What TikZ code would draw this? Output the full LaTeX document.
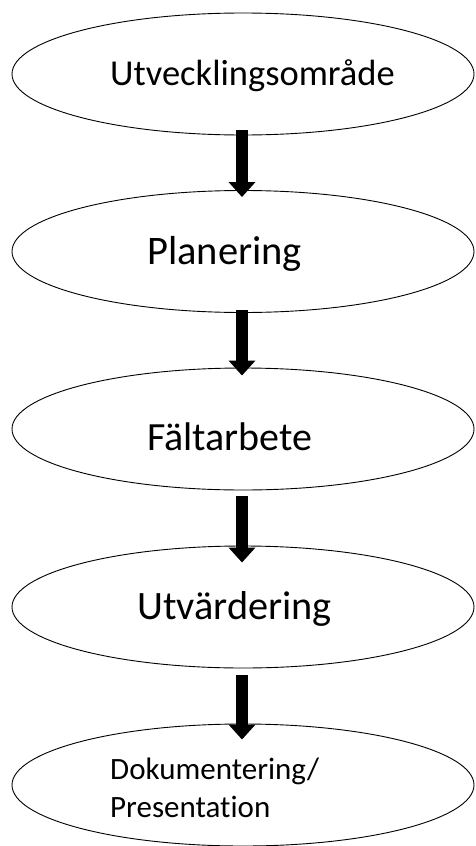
\documentclass[tikz,border=0pt]{standalone}
\usepackage{fontspec}
\setmainfont[Ligatures=NoCommon]{Carlito}
\usetikzlibrary{shapes.geometric,arrows.meta}
\tikzset{
  oval/.style={ellipse, draw=black, line width=0.9pt, fill=white, minimum width=462pt, minimum height=122pt, inner sep=0pt},
  lbl/.style={anchor=base west, inner sep=0pt, text=black},
  blockarrow/.style={line width=12pt, draw=black, -{Triangle[width=26pt,length=15pt]}}
}
\begin{document}
\begin{tikzpicture}[x=1pt,y=-1pt]
\useasboundingbox (0,0) rectangle (475,846);
\node[oval] (e1) at (243,74) {};
\node[oval] (e2) at (243,251.5) {};
\node[oval] (e3) at (243,429) {};
\node[oval] (e4) at (243,607) {};
\node[oval] (e5) at (243,785) {};
\node[lbl, font=\fontsize{36.5}{43}\selectfont] (t1) at (110,85) {Utvecklingsområde};
\node[lbl, font=\fontsize{40.5}{48}\selectfont] (t2) at (147,264) {Planering};
\node[lbl, font=\fontsize{40}{48}\selectfont] (t3) at (147,450) {Fältarbete};
\node[lbl, font=\fontsize{40.3}{48}\selectfont] (t4) at (137,619) {Utvärdering};
\node[lbl, font=\fontsize{31}{38}\selectfont] (t5a) at (110,779) {Dokumentering/};
\node[lbl, font=\fontsize{31}{38}\selectfont] (t5b) at (110,817) {Presentation};
\draw[blockarrow] ([xshift=-1pt,yshift=5pt]e1.south) -- ([xshift=-1pt,yshift=-7pt]e2.north);
\draw[blockarrow] ([xshift=-1pt,yshift=3pt]e2.south) -- ([xshift=-1pt,yshift=-8pt]e3.north);
\draw[blockarrow] ([xshift=-1pt,yshift=-6pt]e3.south) -- ([xshift=-1pt,yshift=-17pt]e4.north);
\draw[blockarrow] ([xshift=-1pt,yshift=-7pt]e4.south) -- ([xshift=-1pt,yshift=-16pt]e5.north);
\end{tikzpicture}
\end{document}
